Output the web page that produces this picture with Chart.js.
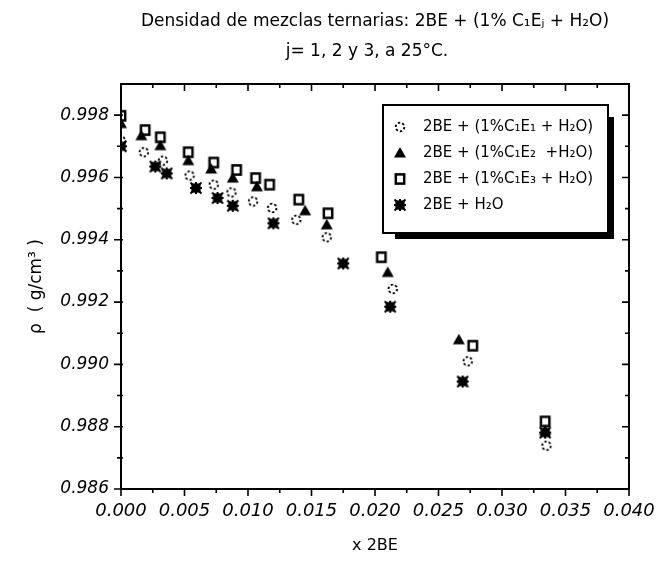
<!DOCTYPE html>
<html><head><meta charset="utf-8">
<script src="https://cdn.jsdelivr.net/npm/chart.js@4/dist/chart.umd.min.js"></script>
<style>html,body{margin:0;padding:0;background:#fff}#wrap{width:661px;height:563px}</style>
</head><body><div id="wrap"><canvas id="c" width="661" height="563"></canvas></div>
<script>
// ---------------- data ----------------
const titleLines = ["Densidad de mezclas ternarias: 2BE + (1% C\u2081E\u2C7C + H\u2082O)", "j= 1, 2 y 3, a 25\u00B0C."];
const seriesLabels = [
  "2BE + (1%C\u2081E\u2081 + H\u2082O)",
  "2BE + (1%C\u2081E\u2082  +H\u2082O)",
  "2BE + (1%C\u2081E\u2083 + H\u2082O)",
  "2BE + H\u2082O"
];
const xAxisTitle = "x 2BE";
const yAxisTitle = "\u03C1  ( g/cm\u00B3 )";

const xC1E1   = [0.0000,0.0018,0.0033,0.0054,0.0073,0.0087,0.0104,0.0119,0.0138,0.0162,0.0214,0.0273,0.0335];
const rhoC1E1 = [0.99718,0.99681,0.99654,0.99606,0.99577,0.99552,0.99523,0.99502,0.99464,0.99408,0.99242,0.99010,0.98739];

const xC1E2   = [0.0000,0.0016,0.0031,0.0053,0.0071,0.0088,0.0107,0.0145,0.0162,0.0210,0.0266,0.0334];
const rhoC1E2 = [0.99773,0.99734,0.99702,0.99654,0.99627,0.99598,0.99570,0.99493,0.99448,0.99295,0.99079,0.98787];

const xC1E3   = [0.0000,0.0019,0.0031,0.0053,0.0073,0.0091,0.0106,0.0117,0.0140,0.0163,0.0205,0.0277,0.0334];
const rhoC1E3 = [0.99798,0.99752,0.99729,0.99681,0.99648,0.99624,0.99598,0.99577,0.99529,0.99485,0.99344,0.99060,0.98817];

const xH2O    = [0.0000,0.0027,0.0036,0.0059,0.0076,0.0088,0.0120,0.0175,0.0212,0.0269,0.0334];
const rhoH2O  = [0.99700,0.99635,0.99613,0.99566,0.99534,0.99509,0.99453,0.99324,0.99185,0.98945,0.98781];

const xTickValues = [0,0.005,0.010,0.015,0.020,0.025,0.030,0.035,0.040];
const xTickLabels = ["0.000","0.005","0.010","0.015","0.020","0.025","0.030","0.035","0.040"];
const yTickValues = [0.986,0.988,0.990,0.992,0.994,0.996,0.998];
const yTickLabels = ["0.986","0.988","0.990","0.992","0.994","0.996","0.998"];

// ---------------- markers ----------------
function mk(draw){const c=document.createElement('canvas');c.width=16;c.height=16;const g=c.getContext('2d');g.translate(8,8);g.fillStyle='#000';g.strokeStyle='#000';draw(g);return c;}
const mCircle = mk(g=>{g.setLineDash([2.4,2]);g.lineWidth=1.8;g.beginPath();g.arc(0,0,4.3,0,2*Math.PI);g.stroke();});
const mTri = mk(g=>{g.beginPath();g.moveTo(0,-6);g.lineTo(6,4.5);g.lineTo(-6,4.5);g.closePath();g.fill();});
const mSquare = mk(g=>{g.lineWidth=2.5;g.strokeRect(-4.2,-4.6,8.4,9.2);});
const mStar = mk(g=>{g.fillRect(-4.6,-4.6,9.2,9.2);g.lineWidth=2;g.beginPath();
  g.moveTo(0,-6);g.lineTo(0,6);g.moveTo(-6,0);g.lineTo(6,0);
  g.moveTo(-5.5,-5.5);g.lineTo(5.5,5.5);g.moveTo(5.5,-5.5);g.lineTo(-5.5,5.5);g.stroke();});
const markers = [mCircle, mTri, mSquare, mStar];

function pts(xs, ys){return xs.map((x,i)=>({x:x,y:ys[i]}));}
const seriesData = [pts(xC1E1,rhoC1E1), pts(xC1E2,rhoC1E2), pts(xC1E3,rhoC1E3), pts(xH2O,rhoH2O)];

const FONT = "'DejaVu Sans', sans-serif";
const near = (a,b)=>Math.abs(a-b)<1e-9;

function withMinors(vals){
  const out=[];
  for(let i=0;i<vals.length;i++){out.push({value:vals[i]}); if(i<vals.length-1) out.push({value:(vals[i]+vals[i+1])/2});}
  return out;
}

const decor = {
  id:'decor',
  afterDraw(chart){
    const ctx=chart.ctx, a=chart.chartArea, xs=chart.scales.x, ys=chart.scales.y;
    ctx.save();
    ctx.strokeStyle='#000'; ctx.fillStyle='#000';
    // frame
    ctx.lineWidth=2;
    ctx.strokeRect(a.left, a.top, a.right-a.left, a.bottom-a.top);
    // ticks
    ctx.lineWidth=1.6;
    ctx.beginPath();
    xs.ticks.forEach(t=>{
      const px=xs.getPixelForValue(t.value);
      const major = xTickValues.some(v=>near(v,t.value));
      const L = major?7:4;
      ctx.moveTo(px,a.bottom); ctx.lineTo(px,a.bottom+L);
      ctx.moveTo(px,a.top); ctx.lineTo(px,a.top+L);
    });
    ys.ticks.forEach(t=>{
      const py=ys.getPixelForValue(t.value);
      if(py < a.top-0.5) return;
      const major = yTickValues.some(v=>near(v,t.value));
      const L = major?7:4;
      ctx.moveTo(a.left-L,py); ctx.lineTo(a.left+2,py);
      ctx.moveTo(a.right,py); ctx.lineTo(a.right-L,py);
    });
    ctx.stroke();
    // title
    ctx.font = "17px "+FONT; ctx.textAlign='center'; ctx.textBaseline='middle';
    ctx.fillText(titleLines[0], (a.left+a.right)/2, 22);
    ctx.fillText(titleLines[1], (a.left+a.right)/2 - 8, 52);
    // legend
    const L={left:383, top:105, right:608, bottom:233};
    ctx.fillRect(L.right, L.top+12, 6, L.bottom-L.top-12+6);
    ctx.fillRect(L.left+12, L.bottom, L.right-L.left-12+6, 6);
    ctx.fillStyle='#fff'; ctx.fillRect(L.left,L.top,L.right-L.left,L.bottom-L.top);
    ctx.lineWidth=2; ctx.strokeRect(L.left,L.top,L.right-L.left,L.bottom-L.top);
    ctx.fillStyle='#000'; ctx.font="15px "+FONT; ctx.textAlign='left';
    chart.data.datasets.forEach((ds,i)=>{
      const y=127+i*26;
      ctx.drawImage(ds.pointStyle, 400-8, y-8);
      ctx.fillText(ds.label, 423, y);
    });
    ctx.restore();
  }
};

new Chart(document.getElementById('c'), {
  type:'scatter',
  data:{datasets: seriesData.map((d,i)=>({label:seriesLabels[i], data:d, pointStyle:markers[i], pointRadius:6, showLine:false}))},
  options:{
    responsive:false, animation:false, events:[], devicePixelRatio:1,
    layout:{padding:{top:84, right:32, left:0, bottom:0}},
    plugins:{legend:{display:false}, title:{display:false}, tooltip:{enabled:false}},
    scales:{
      x:{type:'linear', min:0, max:0.04,
        afterBuildTicks(s){s.ticks = withMinors(xTickValues);},
        afterFit(s){s.height = 74;},
        grid:{drawOnChartArea:false, drawTicks:true, tickLength:7, tickColor:'rgba(0,0,0,0)'},
        border:{display:false},
        ticks:{autoSkip:false, maxRotation:0, padding:5, color:'#000', font:{family:FONT, size:18, style:'italic'},
          callback(v){const i=xTickValues.findIndex(t=>near(t,v)); return i>=0?xTickLabels[i]:'';}},
        title:{display:true, text:xAxisTitle, color:'#000', font:{family:FONT,size:16}, padding:{top:0,bottom:8}}
      },
      y:{type:'linear', min:0.986, max:0.999,
        afterBuildTicks(s){s.ticks = withMinors(yTickValues);},
        afterFit(s){s.width = 121;},
        grid:{drawOnChartArea:false, drawTicks:true, tickLength:7, tickColor:'rgba(0,0,0,0)'},
        border:{display:false},
        ticks:{autoSkip:false, padding:5, color:'#000', font:{family:FONT, size:17, style:'italic'},
          callback(v){const i=yTickValues.findIndex(t=>near(t,v)); return i>=0?yTickLabels[i]:'';}},
        title:{display:true, text:yAxisTitle, color:'#000', font:{family:FONT,size:17}, padding:{top:26,bottom:0}}
      }
    }
  },
  plugins:[decor]
});
</script></body></html>
